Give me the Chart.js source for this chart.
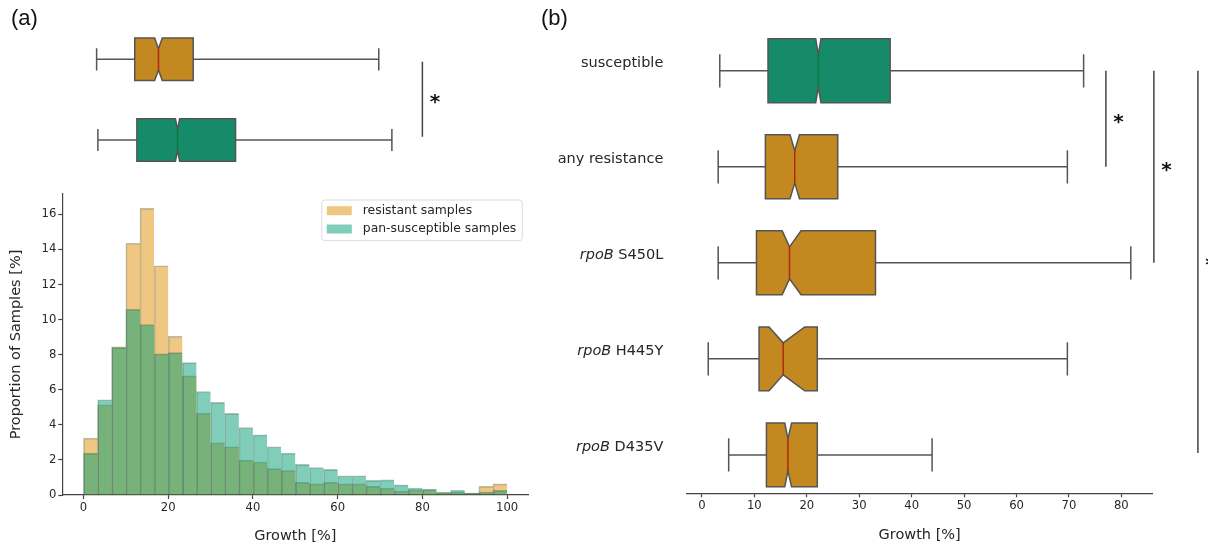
<!DOCTYPE html>
<html>
<head>
<meta charset="utf-8">
<script src="https://cdn.jsdelivr.net/npm/chart.js@4.4.1/dist/chart.umd.min.js"></script>
<style>
  html, body { margin: 0; padding: 0; background: #fff; }
  #page { position: relative; width: 1208px; height: 548px; overflow: hidden; }
  canvas, .panel-label { position: absolute; }
  .panel-label { font: 22px "Liberation Sans", Arial, sans-serif; color: #111; }
</style>
</head>
<body>
<div id="page">
  <canvas id="boxA" width="540" height="185" style="left:0;top:0"></canvas>
  <canvas id="histA" width="540" height="363" style="left:0;top:185px"></canvas>
  <canvas id="boxB" width="668" height="548" style="left:540px;top:0"></canvas>
  <div class="panel-label" style="left:11px;top:5px">(a)</div>
  <div class="panel-label" style="left:541px;top:5px">(b)</div>
</div>
<script>
// histogram bins (centres of the 30 bins between 0 and 100 %)
const binCenters = [1.67, 5, 8.33, 11.67, 15, 18.33, 21.67, 25, 28.33, 31.67,
  35, 38.33, 41.67, 45, 48.33, 51.67, 55, 58.33, 61.67, 65,
  68.33, 71.67, 75, 78.33, 81.67, 85, 88.33, 91.67, 95, 98.33];
const resistantHist = [3.24, 5.14, 8.45, 14.35, 16.34, 13.07, 9.05, 6.79, 4.65, 2.98,
  2.75, 1.99, 1.88, 1.50, 1.39, 0.72, 0.63, 0.72, 0.63, 0.63,
  0.49, 0.38, 0.23, 0.30, 0.30, 0.12, 0.15, 0.10, 0.49, 0.63];
const susceptibleHist = [2.39, 5.43, 8.40, 10.59, 9.72, 8.05, 8.12, 7.55, 5.90, 5.28,
  4.65, 3.85, 3.43, 2.75, 2.39, 1.75, 1.57, 1.46, 1.10, 1.10,
  0.83, 0.86, 0.58, 0.40, 0.34, 0.17, 0.27, 0.11, 0.16, 0.26];

// box plot statistics, growth [%]
const groups = ["susceptible", "any resistance", "rpoB S450L", "rpoB H445Y", "rpoB D435V"];
const whiskerLow = [3.4, 3.1, 3.1, 1.2, 5.1];
const q1 = [12.6, 12.1, 10.4, 10.9, 12.3];
const notchLow = [21.7, 16.8, 15.3, 12.8, 15.8];
const median = [22.2, 17.7, 16.7, 15.5, 16.4];
const notchHigh = [22.7, 18.6, 18.9, 19.6, 17.1];
const q3 = [35.9, 25.9, 33.1, 22.0, 22.0];
const whiskerHigh = [72.8, 69.7, 81.8, 69.7, 43.9];

// styles
const boxColor = ["#168b6a", "#c38820", "#c38820", "#c38820", "#c38820"];
const medianColor = ["#0c7a3a", "#b02a12", "#b02a12", "#b02a12", "#b02a12"];
const lineColor = "#555";
const ink = "#262626";
const family = "'DejaVu Sans', sans-serif";
Chart.defaults.font.family = family;
Chart.defaults.color = ink;

function drawBoxes (chart, rows, halfHeight) {
  const { ctx, scales: { x, y } } = chart;
  const px = v => x.getPixelForValue(v);
  ctx.save();
  ctx.lineWidth = 1.5;
  ctx.lineJoin = "miter";
  rows.forEach(row => {
    const i = row.group;
    const cy = y.getPixelForValue(row.y);
    const h = Math.abs(y.getPixelForValue(row.y + halfHeight) - cy);
    const cap = h * 0.52;

    // whiskers and caps
    ctx.strokeStyle = lineColor;
    ctx.beginPath();
    ctx.moveTo(px(whiskerLow[i]), cy); ctx.lineTo(px(q1[i]), cy);
    ctx.moveTo(px(q3[i]), cy); ctx.lineTo(px(whiskerHigh[i]), cy);
    ctx.moveTo(px(whiskerLow[i]), cy - cap); ctx.lineTo(px(whiskerLow[i]), cy + cap);
    ctx.moveTo(px(whiskerHigh[i]), cy - cap); ctx.lineTo(px(whiskerHigh[i]), cy + cap);
    ctx.stroke();

    // notched box
    ctx.beginPath();
    ctx.moveTo(px(q1[i]), cy - h);
    ctx.lineTo(px(notchLow[i]), cy - h);
    ctx.lineTo(px(median[i]), cy - h / 2);
    ctx.lineTo(px(notchHigh[i]), cy - h);
    ctx.lineTo(px(q3[i]), cy - h);
    ctx.lineTo(px(q3[i]), cy + h);
    ctx.lineTo(px(notchHigh[i]), cy + h);
    ctx.lineTo(px(median[i]), cy + h / 2);
    ctx.lineTo(px(notchLow[i]), cy + h);
    ctx.lineTo(px(q1[i]), cy + h);
    ctx.closePath();
    ctx.fillStyle = boxColor[i];
    ctx.fill();
    ctx.stroke();

    // median
    ctx.strokeStyle = medianColor[i];
    ctx.beginPath();
    ctx.moveTo(px(median[i]), cy - h / 2);
    ctx.lineTo(px(median[i]), cy + h / 2);
    ctx.stroke();
  });
  ctx.restore();
}

function drawBrackets (chart, brackets) {
  const { ctx, scales: { x, y } } = chart;
  ctx.save();
  ctx.strokeStyle = "#444";
  ctx.lineWidth = 1.5;
  ctx.fillStyle = "#111";
  ctx.font = "bold 20px " + family;
  ctx.textAlign = "center";
  ctx.textBaseline = "middle";
  brackets.forEach(b => {
    const bx = x.getPixelForValue(b.x);
    const y0 = y.getPixelForValue(b.from);
    const y1 = y.getPixelForValue(b.to);
    ctx.beginPath();
    ctx.moveTo(bx, y0);
    ctx.lineTo(bx, y1);
    ctx.stroke();
    ctx.fillText("*", bx + 12.5, (y0 + y1) / 2 + 4);
  });
  ctx.restore();
}

function axisStyle (extra) {
  return Object.assign({
    grid: { drawOnChartArea: false, drawTicks: true, tickLength: 4, tickColor: "#444", tickWidth: 1.2, offset: false },
    border: { display: true, color: "#444", width: 1.2 },
    ticks: { font: { size: 11.6 }, color: ink, padding: 2, includeBounds: false }
  }, extra);
}

// A. top box plots of panel (a)
new Chart(document.getElementById("boxA").getContext("2d"), {
  type: "scatter",
  data: {
    datasets: [{
      data: [{ x: median[1], y: 0 }, { x: median[0], y: 1 }],
      pointRadius: 0
    }]
  },
  options: {
    responsive: false,
    animation: false,
    devicePixelRatio: 1,
    layout: { padding: { left: 62.3, right: 11.7, top: 0, bottom: 0 } },
    plugins: { legend: { display: false }, tooltip: { enabled: false } },
    scales: {
      x: { type: "linear", display: false, min: -5, max: 105 },
      y: { type: "linear", display: false, min: -0.735, max: 1.558, reverse: true }
    }
  },
  plugins: [{
    id: "boxesA",
    afterDatasetsDraw (chart) {
      drawBoxes(chart, [{ group: 1, y: 0 }, { group: 0, y: 1 }], 0.264);
      drawBrackets(chart, [{ x: 80, from: 0.03, to: 0.96 }]);
    }
  }]
});

// B. histogram of panel (a)
const histLegend = {
  id: "histLegend",
  afterDraw (chart) {
    const { ctx, chartArea } = chart;
    const items = chart.data.datasets.slice().reverse();
    ctx.save();
    ctx.font = "12.4px " + family;
    const textW = Math.max(...items.map(d => ctx.measureText(d.label).width));
    const w = 41 + textW + 6;
    const h = 40.7;
    const left = chartArea.right - 6 - w;
    const top = chartArea.top + 6;
    ctx.beginPath();
    ctx.roundRect(left, top, w, h, 3);
    ctx.fillStyle = "rgba(255,255,255,0.8)";
    ctx.fill();
    ctx.strokeStyle = "#dcdcdc";
    ctx.lineWidth = 1;
    ctx.stroke();
    items.forEach((d, k) => {
      const cy = top + 10.7 + k * 18.3;
      ctx.fillStyle = d.legendColor;
      ctx.fillRect(left + 5, cy - 4.5, 25, 9);
      ctx.fillStyle = ink;
      ctx.textBaseline = "middle";
      ctx.fillText(d.label, left + 41, cy);
    });
    ctx.restore();
  }
};

new Chart(document.getElementById("histA").getContext("2d"), {
  type: "bar",
  data: {
    datasets: [{
      label: "pan-susceptible samples",
      data: binCenters.map((c, i) => ({ x: c, y: susceptibleHist[i] })),
      backgroundColor: "rgba(2, 158, 115, 0.5)",
      legendColor: "#80ceb9",
      order: 1
    }, {
      label: "resistant samples",
      data: binCenters.map((c, i) => ({ x: c, y: resistantHist[i] })),
      backgroundColor: "rgba(222, 143, 5, 0.5)",
      legendColor: "#eec782",
      order: 2
    }]
  },
  options: {
    responsive: false,
    animation: false,
    devicePixelRatio: 1,
    layout: { padding: { left: 0, right: 11.7, top: 9, bottom: 0 } },
    datasets: {
      bar: {
        grouped: false,
        barPercentage: 1,
        categoryPercentage: 1,
        borderColor: "rgba(50, 70, 55, 0.35)",
        borderWidth: { top: 1, left: 1, right: 0, bottom: 0 },
        borderSkipped: false
      }
    },
    plugins: { legend: { display: false }, tooltip: { enabled: false } },
    scales: {
      x: axisStyle({
        type: "linear", min: -5, max: 105, offset: false,
        ticks: { stepSize: 20, font: { size: 11.6 }, color: ink, padding: 2, includeBounds: false },
        title: { display: true, text: "Growth [%]", font: { size: 14.5 }, color: ink, padding: { top: 0, bottom: 2.6 } },
        afterFit: s => { s.height = 53; }
      }),
      y: axisStyle({
        min: 0, max: 17.16,
        ticks: { stepSize: 2, font: { size: 11.6 }, color: ink, padding: 2, includeBounds: false },
        title: { display: true, text: "Proportion of Samples [%]", font: { size: 14.5 }, color: ink, padding: { top: 8, bottom: 0 } },
        afterFit: s => { s.width = 62.3; }
      })
    }
  },
  plugins: [histLegend]
});

// C. box plots of panel (b)
new Chart(document.getElementById("boxB").getContext("2d"), {
  type: "scatter",
  data: {
    datasets: [{
      data: groups.map((g, i) => ({ x: median[i], y: i })),
      pointRadius: 0
    }]
  },
  options: {
    responsive: false,
    animation: false,
    devicePixelRatio: 1,
    layout: { padding: { left: 147, right: 55.7, top: 22.75, bottom: 0 } },
    plugins: { legend: { display: false }, tooltip: { enabled: false } },
    scales: {
      x: axisStyle({
        type: "linear", min: -2.85, max: 85.9,
        ticks: { stepSize: 10, font: { size: 11.6 }, color: ink, padding: 2, includeBounds: false },
        title: { display: true, text: "Growth [%]", font: { size: 14.5 }, color: ink, padding: { top: 0, bottom: 4.3 } },
        afterFit: s => { s.height = 54.7; }
      }),
      y: { type: "linear", display: false, min: -0.5, max: 4.4, reverse: true }
    }
  },
  plugins: [{
    id: "boxesB",
    afterDatasetsDraw (chart) {
      const { ctx, chartArea, scales: { y } } = chart;
      drawBoxes(chart, groups.map((g, i) => ({ group: i, y: i })), 0.333);
      drawBrackets(chart, [
        { x: 77.05, from: 0, to: 1 },
        { x: 86.2, from: 0, to: 2 },
        { x: 94.6, from: 0, to: 3.98 }
      ]);

      // category labels, gene name in italics
      ctx.save();
      ctx.fillStyle = ink;
      ctx.textBaseline = "middle";
      ctx.textAlign = "right";
      const xr = chartArea.left - 23.7;
      groups.forEach((g, i) => {
        const cy = y.getPixelForValue(i) - 7.4;
        if (g.startsWith("rpoB ")) {
          const rest = g.slice(4);
          ctx.font = "14.5px " + family;
          ctx.fillText(rest, xr, cy);
          const w = ctx.measureText(rest).width;
          ctx.font = "italic 14.5px " + family;
          ctx.fillText("rpoB", xr - w, cy);
        } else {
          ctx.font = "14.5px " + family;
          ctx.fillText(g, xr, cy);
        }
      });
      ctx.restore();
    }
  }]
});
</script>
</body>
</html>
